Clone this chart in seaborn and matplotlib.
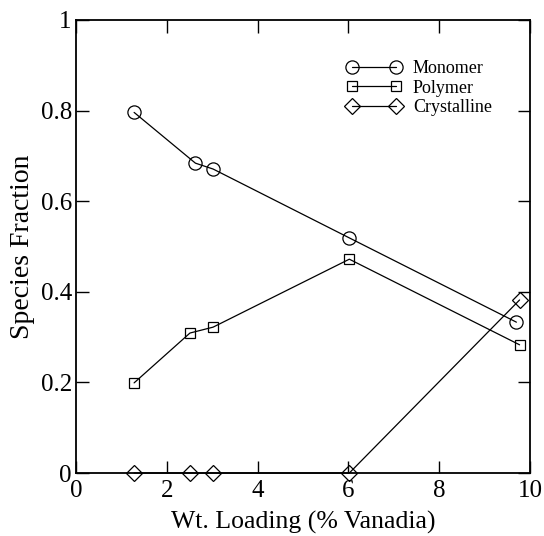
import matplotlib
matplotlib.use("Agg")
import matplotlib.pyplot as plt
from matplotlib.ticker import FormatStrFormatter, MultipleLocator
import seaborn as sns
import pandas as pd

# Species fractions versus vanadia loading
monomer_x = [1.28, 2.63, 3.02, 6.02, 9.70]
monomer_y = [0.796, 0.684, 0.671, 0.519, 0.333]

polymer_x = [1.28, 2.51, 3.02, 6.02, 9.77]
polymer_y = [0.199, 0.309, 0.322, 0.472, 0.283]

crystalline_x = [1.28, 2.51, 3.02, 6.02, 9.77]
crystalline_y = [0.0, 0.0, 0.0, 0.0, 0.382]

series_names = ["Monomer", "Polymer", "Crystalline"]
series_markers = ["o", "s", "D"]
marker_sizes = [9.5, 7.5, 8.0]

x_label = "Wt. Loading (% Vanadia)"
y_label = "Species Fraction"

sns.set_style("ticks")
plt.rcParams["font.family"] = ["Liberation Serif", "DejaVu Serif"]
plt.rcParams["text.color"] = "black"
plt.rcParams["axes.labelcolor"] = "black"

fig = plt.figure(figsize=(5.44, 5.36), dpi=100)
ax = fig.add_axes([0.1397, 0.1175, 0.9743 - 0.1397, 0.9627 - 0.1175])

frames = [
    pd.DataFrame({"x": monomer_x, "y": monomer_y}),
    pd.DataFrame({"x": polymer_x, "y": polymer_y}),
    pd.DataFrame({"x": crystalline_x, "y": crystalline_y}),
]

for df, name, mk, ms in zip(frames, series_names, series_markers, marker_sizes):
    sns.lineplot(
        data=df, x="x", y="y", ax=ax, label=name,
        color="black", linewidth=0.9, marker=mk, markersize=ms,
        markerfacecolor="none", markeredgecolor="black", markeredgewidth=0.9,
        clip_on=False, zorder=3, sort=False,
    )

ax.set_xlim(0, 10)
ax.set_ylim(0, 1)
ax.xaxis.set_major_locator(MultipleLocator(2))
ax.yaxis.set_major_locator(MultipleLocator(0.2))
ax.xaxis.set_major_formatter(FormatStrFormatter("%g"))
ax.yaxis.set_major_formatter(FormatStrFormatter("%g"))

ax.tick_params(axis="both", which="major", direction="in", length=9,
               width=1.0, top=True, right=True, labelsize=18,
               colors="black", labelcolor="black")
ax.tick_params(axis="x", pad=5)
ax.tick_params(axis="y", pad=3)
for sp in ax.spines.values():
    sp.set_linewidth(1.3)
    sp.set_color("black")

ax.set_xlabel(x_label, fontsize=18.5, labelpad=6.5, color="black")
ax.set_ylabel(y_label, fontsize=20, labelpad=4, color="black")

leg = ax.legend(
    loc="upper left", bbox_to_anchor=(0.581, 0.928), frameon=False,
    fontsize=13, numpoints=2, handlelength=3.0, handletextpad=0.65,
    labelspacing=0.15, borderaxespad=0.0,
)
for t in leg.get_texts():
    t.set_color("black")

fig.savefig("out.png", dpi=100)
